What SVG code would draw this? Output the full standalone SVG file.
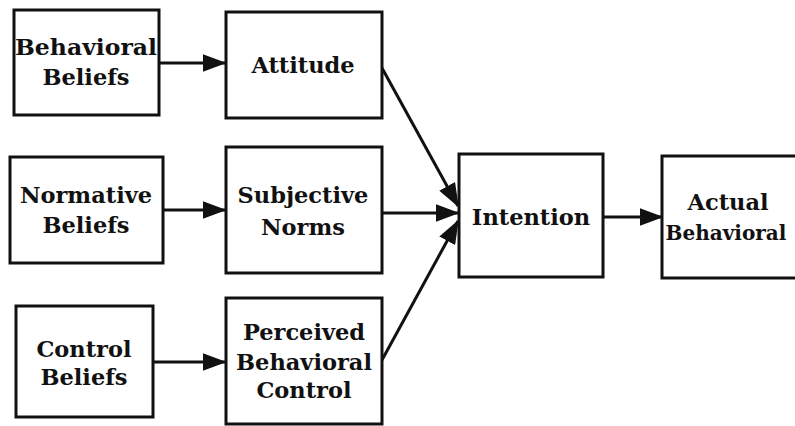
<svg xmlns="http://www.w3.org/2000/svg" width="795" height="426" viewBox="0 0 795 426">
<style>
.box{fill:#fff;stroke:#111;stroke-width:3}
.t{font-family:"DejaVu Serif","Liberation Serif",serif;font-weight:bold;font-size:22.5px;fill:#111;text-anchor:middle}
.c{stroke:#111;stroke-width:3;fill:none;marker-end:url(#ah)}
</style>
<defs>
<marker id="ah" markerWidth="8" markerHeight="6" refX="7.5" refY="3" orient="auto" markerUnits="strokeWidth">
<path d="M0,0 L8,3 L0,6 Z" fill="#111"/>
</marker>
</defs>
<rect width="795" height="426" fill="#fff"/>
<g id="connectors">
<line class="c" x1="159" y1="63" x2="225" y2="63"/>
<line class="c" x1="163" y1="210" x2="225" y2="210"/>
<line class="c" x1="153" y1="362" x2="225" y2="362"/>
<line class="c" x1="382" y1="68" x2="458" y2="206"/>
<line class="c" x1="382" y1="213" x2="458" y2="213"/>
<line class="c" x1="382" y1="360" x2="458" y2="221"/>
<line class="c" x1="603" y1="217" x2="662" y2="217"/>
</g>
<g id="behavioral-beliefs">
<rect class="box" x="14" y="10" width="145" height="105"/>
<text class="t" x="86" y="55" textLength="142" lengthAdjust="spacingAndGlyphs">Behavioral</text>
<text class="t" x="86" y="85">Beliefs</text>
</g>
<g id="attitude">
<rect class="box" x="226" y="12" width="156" height="106"/>
<text class="t" x="303" y="73">Attitude</text>
</g>
<g id="normative-beliefs">
<rect class="box" x="10" y="157" width="153" height="106"/>
<text class="t" x="86" y="203">Normative</text>
<text class="t" x="86" y="233">Beliefs</text>
</g>
<g id="subjective-norms">
<rect class="box" x="226" y="147" width="156" height="126"/>
<text class="t" x="303" y="203">Subjective</text>
<text class="t" x="303" y="235">Norms</text>
</g>
<g id="control-beliefs">
<rect class="box" x="16" y="306" width="137" height="111"/>
<text class="t" x="84" y="357">Control</text>
<text class="t" x="84" y="385">Beliefs</text>
</g>
<g id="perceived-behavioral-control">
<rect class="box" x="226" y="298" width="156" height="126"/>
<text class="t" x="304" y="340">Perceived</text>
<text class="t" x="304" y="370">Behavioral</text>
<text class="t" x="304" y="398">Control</text>
</g>
<g id="intention">
<rect class="box" x="459" y="154" width="144" height="123"/>
<text class="t" x="531" y="225">Intention</text>
</g>
<g id="actual-behavioral">
<rect class="box" x="662" y="156" width="140" height="122"/>
<text class="t" x="728" y="210">Actual</text>
<text class="t" x="726" y="240" style="font-size:20px">Behavioral</text>
</g>
</svg>
